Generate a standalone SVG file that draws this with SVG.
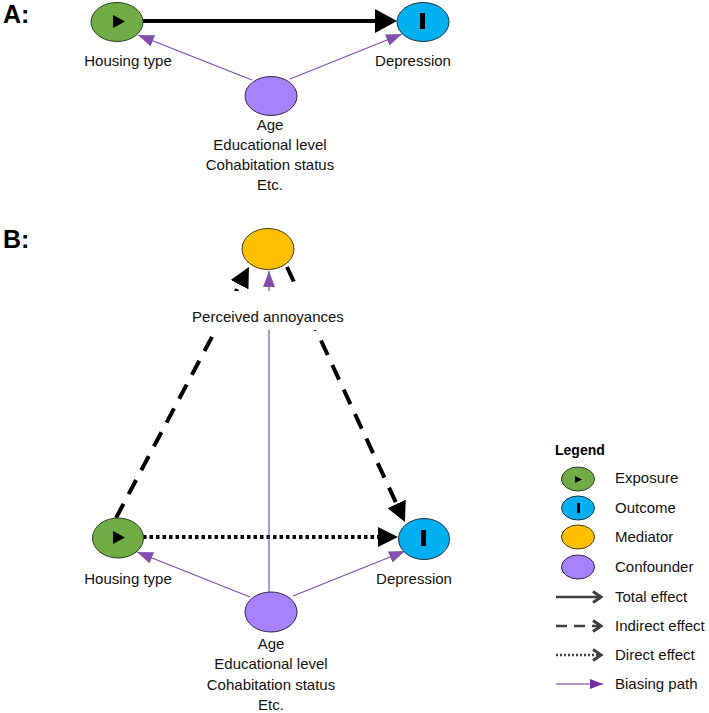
<svg xmlns="http://www.w3.org/2000/svg" width="709" height="713" viewBox="0 0 709 713">
<style>
text{font-family:"Liberation Sans",Arial,sans-serif;font-size:15px;fill:#111}
.title{font-size:25px;font-weight:bold;fill:#000}
.lh{font-weight:bold;font-size:14px;fill:#000}
.mid{text-anchor:middle}
.exp{fill:#70AD47;stroke:#2f3f2a;stroke-width:1}
.out{fill:#00B0F0;stroke:#1f3340;stroke-width:1}
.med{fill:#FFC000;stroke:#4a3a10;stroke-width:1}
.con{fill:#A782FF;stroke:#2f2a40;stroke-width:1}
.total{stroke:#000;stroke-width:4;fill:none}
.indirect{stroke:#000;stroke-width:4;fill:none;stroke-dasharray:16 11}
.direct{stroke:#000;stroke-width:4;fill:none;stroke-dasharray:3.5 3}
.bias{stroke:#7030A0;stroke-width:1.2;fill:none;opacity:0.85}
.lg{stroke:#404040;stroke-width:2.5;fill:none}
</style>
<defs>
<marker id="bigHead" markerUnits="userSpaceOnUse" viewBox="0 0 22 24" refX="0" refY="12" markerWidth="22" markerHeight="24" orient="auto">
<path d="M0,0 L22,12 L0,24 z" fill="#000"/>
</marker>
<marker id="head" markerUnits="userSpaceOnUse" viewBox="0 0 20 20" refX="0" refY="10" markerWidth="20" markerHeight="20" orient="auto">
<path d="M0,0 L20,10 L0,20 z" fill="#000"/>
</marker>
<marker id="pHead" markerUnits="userSpaceOnUse" viewBox="0 0 16 12" refX="16" refY="6" markerWidth="16" markerHeight="12" orient="auto">
<path d="M0,0 L16,6 L0,12 z" fill="#7030A0"/>
</marker>
<marker id="chev" markerUnits="userSpaceOnUse" viewBox="0 0 12 14" refX="10" refY="7" markerWidth="12" markerHeight="14" orient="auto">
<path d="M2,1.5 L10,7 L2,12.5" fill="none" stroke="#404040" stroke-width="3"/>
</marker>
<marker id="pHeadS" markerUnits="userSpaceOnUse" viewBox="0 0 13 10" refX="13" refY="5" markerWidth="13" markerHeight="10" orient="auto">
<path d="M0,0 L13,5 L0,10 z" fill="#7030A0"/>
</marker>
</defs>

<text class="title" x="3" y="23">A:</text>
<text class="title" x="3" y="248">B:</text>

<g id="connectors">
<!-- Panel A -->
<line class="total" x1="143" y1="21" x2="375" y2="21" marker-end="url(#bigHead)"/>
<line class="bias" x1="252" y1="80" x2="138" y2="35" marker-end="url(#pHead)"/>
<line class="bias" x1="290" y1="79" x2="402" y2="34" marker-end="url(#pHead)"/>
<!-- Panel B -->
<line class="indirect" x1="116" y1="518" x2="239.6" y2="284.7" marker-end="url(#head)"/>
<line class="indirect" x1="287" y1="267" x2="396.6" y2="503.9" marker-end="url(#head)"/>
<line class="direct" x1="143" y1="537" x2="378" y2="537" marker-end="url(#head)"/>
<line class="bias" x1="269" y1="592" x2="269" y2="271" marker-end="url(#pHead)"/>
<line class="bias" x1="250" y1="597" x2="137" y2="552" marker-end="url(#pHead)"/>
<line class="bias" x1="293" y1="596" x2="405" y2="551" marker-end="url(#pHead)"/>
</g>

<g id="a-housing">
<ellipse class="exp" cx="117" cy="22" rx="26" ry="19.5"/>
<path d="M113,15 L125,21.5 L113,28 z" fill="#000"/>
<text class="mid" x="128" y="66">Housing type</text>
</g>
<g id="a-depression">
<ellipse class="out" cx="423" cy="22" rx="26" ry="19.5"/>
<rect x="420" y="13" width="5" height="16" fill="#000"/>
<text class="mid" x="413" y="66">Depression</text>
</g>
<g id="a-confounder">
<ellipse class="con" cx="271" cy="96" rx="26" ry="19.5"/>
<text class="mid" x="270" y="130">Age</text>
<text class="mid" x="270" y="150">Educational level</text>
<text class="mid" x="270" y="170">Cohabitation status</text>
<text class="mid" x="270" y="190">Etc.</text>
</g>

<g id="b-mediator">
<ellipse class="med" cx="268" cy="249" rx="26" ry="20.5"/>
<rect x="190" y="291" width="156" height="39" fill="#fff"/>
<text class="mid" x="268" y="322">Perceived annoyances</text>
</g>
<g id="b-housing">
<ellipse class="exp" cx="118" cy="538" rx="25.5" ry="20"/>
<path d="M113,531 L125,537.5 L113,544 z" fill="#000"/>
<text class="mid" x="128" y="584">Housing type</text>
</g>
<g id="b-depression">
<ellipse class="out" cx="424" cy="539" rx="25.5" ry="20.5"/>
<rect x="421" y="530" width="5" height="16" fill="#000"/>
<text class="mid" x="414" y="584">Depression</text>
</g>
<g id="b-confounder">
<ellipse class="con" cx="271" cy="612" rx="26" ry="20"/>
<text class="mid" x="271" y="649">Age</text>
<text class="mid" x="271" y="669">Educational level</text>
<text class="mid" x="271" y="690">Cohabitation status</text>
<text class="mid" x="271" y="710">Etc.</text>
</g>

<g id="legend">
<text class="lh" x="555" y="455">Legend</text>
<ellipse class="exp" cx="578" cy="479" rx="16.5" ry="12"/>
<path d="M575,476 L582,479.5 L575,483 z" fill="#000"/>
<text x="615" y="483">Exposure</text>
<ellipse class="out" cx="578" cy="508" rx="16.5" ry="12"/>
<rect x="577" y="503" width="3" height="10" fill="#000"/>
<text x="615" y="513">Outcome</text>
<ellipse class="med" cx="578" cy="537" rx="16.5" ry="12"/>
<text x="615" y="542">Mediator</text>
<ellipse class="con" cx="578" cy="567" rx="16.5" ry="12"/>
<text x="615" y="572">Confounder</text>
<line class="lg" x1="556" y1="597" x2="601" y2="597" marker-end="url(#chev)"/>
<text x="615" y="602">Total effect</text>
<line class="lg" x1="556" y1="626" x2="601" y2="626" stroke-dasharray="11 7" marker-end="url(#chev)"/>
<text x="615" y="631">Indirect effect</text>
<line class="lg" x1="556" y1="655" x2="601" y2="655" stroke-width="2" stroke-dasharray="2 2" marker-end="url(#chev)"/>
<text x="615" y="660">Direct effect</text>
<line x1="556" y1="684" x2="603" y2="684" stroke="#7030A0" stroke-width="1.2" marker-end="url(#pHeadS)"/>
<text x="615" y="689">Biasing path</text>
</g>
</svg>
